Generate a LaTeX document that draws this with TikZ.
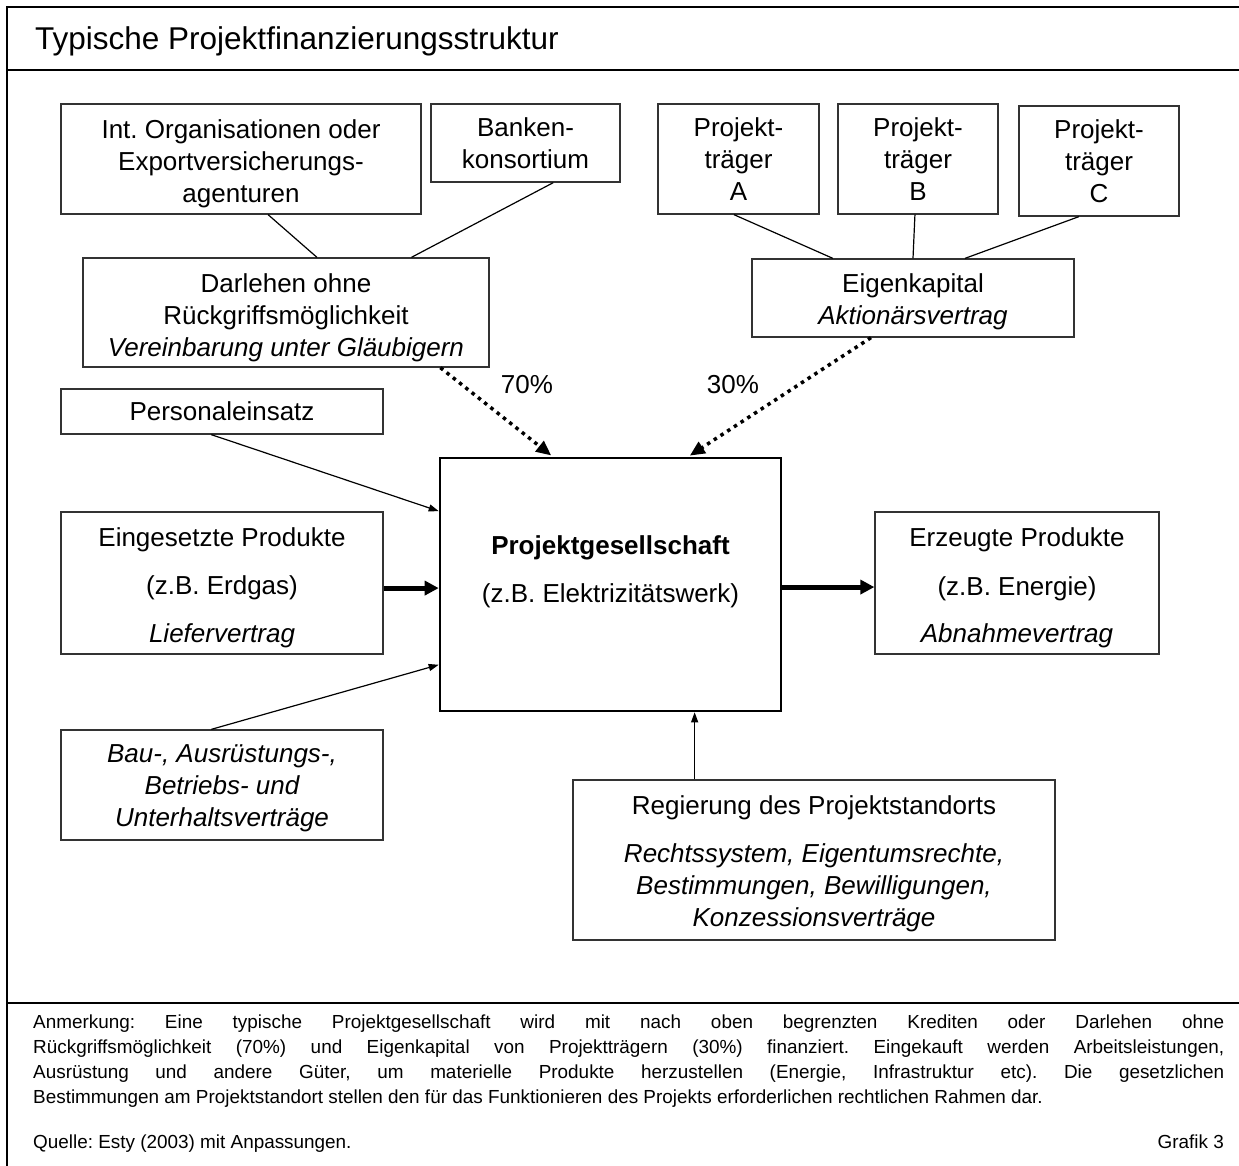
\documentclass[tikz,border=0pt]{standalone}
\usepackage{fontspec}
\setmainfont{Liberation Sans}
\usetikzlibrary{arrows.meta,calc}
\definecolor{boxgray}{HTML}{333333}
\frenchspacing
\begin{document}
\begin{tikzpicture}[x=1pt,y=-1pt,
  box/.style={draw=boxgray,line width=1.3pt,inner sep=0pt,rectangle},
  mainbox/.style={draw=black,line width=2.6pt,inner sep=0pt,rectangle},
  lbl/.style={anchor=base,inner sep=0pt,font=\fontsize{26}{32}\selectfont},
  ilbl/.style={anchor=base,inner sep=0pt,font=\fontsize{26}{32}\selectfont\itshape},
  blbl/.style={anchor=base,inner sep=0pt,font=\fontsize{26}{32}\selectfont\bfseries},
  notefont/.style={anchor=base west,inner sep=0pt,font=\fontsize{18.9}{25}\selectfont},
  conn/.style={line width=1.2pt},
  thinarrow/.style={line width=1.2pt,-{Triangle[length=10pt,width=7pt]}},
  thickarrow/.style={line width=5pt,-{Triangle[length=14pt,width=14pt]}},
  dotarrow/.style={line width=3.5pt,dash pattern=on 3.5pt off 4.5pt,-{Triangle[length=15pt,width=13pt]},shorten >=2pt},
  frameline/.style={line width=2.8pt}]
\useasboundingbox (0,0) rectangle (1239,1166);
% frame
\draw[frameline] (1239,7) -- (7,7) -- (7,1166);
\draw[frameline] (7,70) -- (1239,70);
\draw[frameline] (7,1003) -- (1239,1003);
\node[anchor=base west,inner sep=0pt,font=\fontsize{31.5}{36}\selectfont] (title) at (35,50) {Typische Projektfinanzierungsstruktur};
% boxes
\node[box,minimum width=360pt,minimum height=110pt] (intorg) at (241,159) {};
\node[box,minimum width=189pt,minimum height=78pt] (banken) at (525.5,143) {};
\node[box,minimum width=161pt,minimum height=110pt] (ptA) at (738.5,159) {};
\node[box,minimum width=160pt,minimum height=110pt] (ptB) at (918,159) {};
\node[box,minimum width=160pt,minimum height=110pt] (ptC) at (1099,161) {};
\node[box,minimum width=406pt,minimum height=109pt] (darlehen) at (286,312.5) {};
\node[box,minimum width=322pt,minimum height=78pt] (eigen) at (913,298) {};
\node[box,minimum width=322pt,minimum height=45pt] (personal) at (222,411.5) {};
\node[mainbox,minimum width=341pt,minimum height=253pt] (main) at (610.5,584.5) {};
\node[box,minimum width=322pt,minimum height=142pt] (eingesetzt) at (222,583) {};
\node[box,minimum width=284pt,minimum height=142pt] (erzeugt) at (1017,583) {};
\node[box,minimum width=322pt,minimum height=110pt] (bau) at (222,785) {};
\node[box,minimum width=482pt,minimum height=160pt] (regierung) at (814,860) {};
% texts
\node[lbl] (io1) at (241,139) {Int. Organisationen oder};
\node[lbl] (io2) at (241,171) {Exportversicherungs-};
\node[lbl] (io3) at (241,203) {agenturen};
\node[lbl] (bk1) at (525.5,137) {Banken-};
\node[lbl] (bk2) at (525.5,169) {konsortium};
\node[lbl] (pa1) at (738.5,137) {Projekt-};
\node[lbl] (pa2) at (738.5,169) {träger};
\node[lbl] (pa3) at (738.5,201) {A};
\node[lbl] (pb1) at (918,137) {Projekt-};
\node[lbl] (pb2) at (918,169) {träger};
\node[lbl] (pb3) at (918,201) {B};
\node[lbl] (pc1) at (1099,139) {Projekt-};
\node[lbl] (pc2) at (1099,171) {träger};
\node[lbl] (pc3) at (1099,203) {C};
\node[lbl] (dl1) at (286,292) {Darlehen ohne};
\node[lbl] (dl2) at (286,324) {Rückgriffsmöglichkeit};
\node[ilbl] (dl3) at (286,356) {Vereinbarung unter Gläubigern};
\node[lbl] (ek1) at (913,292) {Eigenkapital};
\node[ilbl] (ek2) at (913,324) {Aktionärsvertrag};
\node[lbl] (pe1) at (222,420) {Personaleinsatz};
\node[blbl] (mn1) at (610.5,554) {Projektgesellschaft};
\node[lbl] (mn2) at (610.5,602) {(z.B. Elektrizitätswerk)};
\node[lbl] (ei1) at (222,546) {Eingesetzte Produkte};
\node[lbl] (ei2) at (222,594) {(z.B. Erdgas)};
\node[ilbl] (ei3) at (222,642) {Liefervertrag};
\node[lbl] (ez1) at (1017,546) {Erzeugte Produkte};
\node[lbl] (ez2) at (1017,595) {(z.B. Energie)};
\node[ilbl] (ez3) at (1017,642) {Abnahmevertrag};
\node[ilbl] (ba1) at (222,762) {Bau-, Ausrüstungs-,};
\node[ilbl] (ba2) at (222,794) {Betriebs- und};
\node[ilbl] (ba3) at (222,826) {Unterhaltsverträge};
\node[lbl] (rg1) at (814,814) {Regierung des Projektstandorts};
\node[ilbl] (rg2) at (814,862) {Rechtssystem, Eigentumsrechte,};
\node[ilbl] (rg3) at (814,894) {Bestimmungen, Bewilligungen,};
\node[ilbl] (rg4) at (814,926) {Konzessionsverträge};
\node[lbl] (p70) at (527,393) {70\%};
\node[lbl] (p30) at (733,393) {30\%};
% connectors
\draw[conn] ($(intorg.south west)!0.575!(intorg.south east)$) -- ($(darlehen.north west)!0.576!(darlehen.north east)$);
\draw[conn] ($(banken.south west)!0.646!(banken.south east)$) -- ($(darlehen.north west)!0.808!(darlehen.north east)$);
\draw[conn] ($(ptA.south west)!0.472!(ptA.south east)$) -- ($(eigen.north west)!0.252!(eigen.north east)$);
\draw[conn] ($(ptB.south west)!0.481!(ptB.south east)$) -- ($(eigen.north west)!0.5!(eigen.north east)$);
\draw[conn] ($(ptC.south west)!0.375!(ptC.south east)$) -- ($(eigen.north west)!0.661!(eigen.north east)$);
\draw[dotarrow] ($(darlehen.south west)!0.879!(darlehen.south east)$) -- ($(main.north west)!0.332!(main.north east)$);
\draw[dotarrow] ($(eigen.south west)!0.37!(eigen.south east)$) -- ($(main.north west)!0.726!(main.north east)$);
\draw[thinarrow] ($(personal.south west)!0.467!(personal.south east)$) -- ($(main.north west)!0.213!(main.south west)$);
\draw[thinarrow] ($(bau.north west)!0.467!(bau.north east)$) -- ($(main.north west)!0.814!(main.south west)$);
\coordinate (regpt) at ($(regierung.north west)!0.253!(regierung.north east)$);
\draw[thinarrow] (regpt) -- (regpt |- main.south);
\coordinate (inpt) at ($(main.north west)!0.514!(main.south west)$);
\draw[thickarrow] (inpt -| eingesetzt.east) -- (inpt);
\coordinate (outpt) at ($(main.north east)!0.51!(main.south east)$);
\draw[thickarrow] (outpt) -- (outpt -| erzeugt.west);
% footnote
\node[anchor=base west,inner sep=0pt] (note) at (33,1028) {\parbox[t]{1191pt}{\fontsize{18.9}{25}\selectfont\frenchspacing\hyphenpenalty=10000\exhyphenpenalty=10000\tolerance=10000
Anmerkung: Eine typische Projektgesellschaft wird mit nach oben begrenzten Krediten oder Darlehen ohne\linebreak
Rückgriffsmöglichkeit (70\%) und Eigenkapital von Projektträgern (30\%) finanziert. Eingekauft werden Arbeitsleistungen,\linebreak
Ausrüstung und andere Güter, um materielle Produkte herzustellen (Energie, Infrastruktur etc). Die gesetzlichen\linebreak
Bestimmungen am Projektstandort stellen den für das Funktionieren des Projekts erforderlichen rechtlichen Rahmen dar.}};
\node[notefont] (quelle) at (33,1148) {Quelle: Esty (2003) mit Anpassungen.};
\node[notefont,anchor=base east] (grafik) at (1224,1148) {Grafik 3};
\end{tikzpicture}
\end{document}
